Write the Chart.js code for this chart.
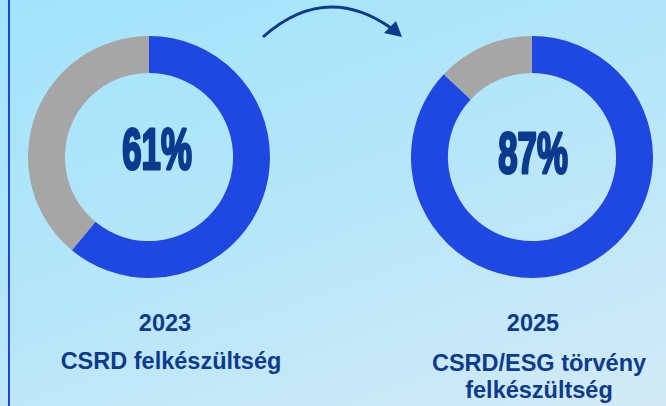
<!DOCTYPE html>
<html>
<head>
<meta charset="utf-8">
<script src="https://cdn.jsdelivr.net/npm/chart.js@4"></script>
<style>
  html, body { margin: 0; padding: 0; }
  body {
    width: 666px; height: 406px; overflow: hidden; position: relative;
    background: linear-gradient(160deg, #a2e4fc 0%, #b6e6f9 50%, #d3eaf6 100%);
    font-family: 'Liberation Sans', Arial, sans-serif;
  }
  .rule { position: absolute; left: 8px; top: 0; width: 2px; height: 406px; background: #1d46e0; }
  .box { position: absolute; width: 242px; height: 242px; top: 36px; }
  .lbl { position: absolute; width: 300px; text-align: center; color: #0b3a8e; font-weight: bold; font-size: 23.5px; line-height: 27px; white-space: nowrap; }
  svg { position: absolute; left: 0; top: 0; }
</style>
</head>
<body>
<div class="rule"></div>
<svg width="666" height="80">
  <path d="M263,37 Q325,-18 391,28" fill="none" stroke="#0b3a8e" stroke-width="3"/>
  <polygon points="402,37 396,21 384,33" fill="#0b3a8e"/>
</svg>
<div class="box" style="left:28px"><canvas id="grafico1"></canvas></div>
<div class="box" style="left:411px"><canvas id="grafico2"></canvas></div>
<div class="lbl" id="ano1" style="left:15px; top:310px"></div>
<div class="lbl" id="nome1" style="left:21px; top:348px"></div>
<div class="lbl" id="ano2" style="left:383px; top:310px"></div>
<div class="lbl" id="nome2" style="left:389px; top:350px"></div>
<script>
const anos = ['2023', '2025']
const nomes = ['CSRD felkészültség', 'CSRD/ESG törvény<br>felkészültség']
const prontos = [61, 87]
const partes = ['Felkészült', 'Nem felkészült']
const cores = ['#1f47e1', '#a6a6a6']
// deslocamento do texto central em relação ao centro do anel
const desvios = [[8, -4], [1, 0]]

const textoCentro = {
    id: 'textoCentro',
    afterDraw(chart) {
        const ctx = chart.ctx
        const meta = chart.getDatasetMeta(0).data[0]
        const d = chart.options.plugins.textoCentro
        ctx.save()
        ctx.translate(meta.x + d.dx, meta.y + d.dy)
        ctx.scale(0.6, 1)
        ctx.fillStyle = '#0b3a8e'
        ctx.strokeStyle = '#0b3a8e'
        ctx.lineWidth = 3
        ctx.lineJoin = 'round'
        ctx.font = 'bold 58px "Liberation Sans", Arial, sans-serif'
        ctx.textAlign = 'center'
        ctx.textBaseline = 'middle'
        ctx.strokeText(d.texto, 0, 0)
        ctx.fillText(d.texto, 0, 0)
        ctx.restore()
    }
}

window.onload = () => {
    anos.forEach((ano, i) => {
        document.getElementById('ano' + (i + 1)).innerHTML = ano
        document.getElementById('nome' + (i + 1)).innerHTML = nomes[i]
        let contexto = document.getElementById('grafico' + (i + 1)).getContext('2d')
        new Chart(contexto, {
            type: 'doughnut',
            data: {
                labels: partes,
                datasets: [{
                    data: [prontos[i], 100 - prontos[i]],
                    backgroundColor: cores,
                    borderWidth: 0
                }]
            },
            options: {
                responsive: true,
                maintainAspectRatio: false,
                animation: false,
                cutout: '69.5%',
                layout: { padding: 0 },
                plugins: {
                    legend: { display: false },
                    tooltip: { enabled: false },
                    textoCentro: { texto: prontos[i] + '%', dx: desvios[i][0], dy: desvios[i][1] }
                }
            },
            plugins: [textoCentro]
        })
    })
}
</script>
</body>
</html>
